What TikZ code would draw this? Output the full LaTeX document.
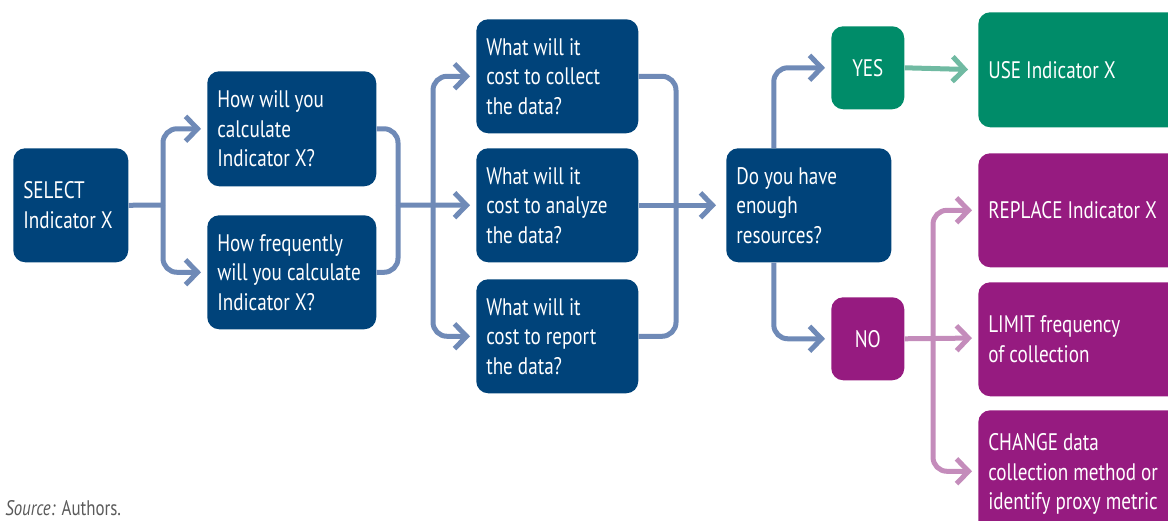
\documentclass[tikz,border=0pt]{standalone}
\usepackage{fontspec}
\setmainfont[FakeStretch=0.8]{PT Sans}
\usetikzlibrary{arrows.meta}

\newlength\gridpx
\setlength\gridpx{0.025cm}
\hyphenpenalty=10000
\definecolor{boxblue}{RGB}{0,67,122}
\definecolor{lineblue}{RGB}{111,138,183}
\definecolor{boxgreen}{RGB}{0,140,105}
\definecolor{linegreen}{RGB}{112,186,162}
\definecolor{boxpurple}{RGB}{150,27,128}
\definecolor{linepink}{RGB}{196,140,187}
\definecolor{srcgray}{RGB}{90,90,90}

\begin{document}
\begin{tikzpicture}[x=0.025cm,y=-0.025cm,
    box/.style={rounded corners=12\gridpx, fill=boxblue, text=white, align=left,
      font=\fontsize{17}{21}\selectfont, execute at begin node={\spaceskip=3.6pt plus 1pt\relax},
      inner xsep=10\gridpx, inner ysep=0pt, anchor=north west},
    dims/.style 2 args={text width=#1\gridpx, minimum height=#2\gridpx},
    line/.style={draw=lineblue, line width=5\gridpx, rounded corners=14\gridpx},
    link/.style={line, -{Straight Barb[length=0.3cm, width=0.62cm]}, shorten >=6\gridpx}
  ]
    \useasboundingbox (0,0) rectangle (1168,520);
    \clip (0,0) rectangle (1168,520);

    \node[box, dims={95}{114}] (select) at (13,148) {SELECT\\Indicator X};
    \node[box, dims={149}{115}] (calc) at (207,71) {How will you\\calculate\\Indicator X?};
    \node[box, dims={149}{114}] (freq) at (207,215) {How frequently\\will you calculate\\Indicator X?};
    \node[box, dims={142}{114}] (collect) at (476,19) {What will it\\cost to collect\\the data?};
    \node[box, dims={142}{114}] (analyze) at (476,148) {What will it\\cost to analyze\\the data?};
    \node[box, dims={142}{114}] (report) at (476,279) {What will it\\cost to report\\the data?};
    \node[box, dims={145}{114}] (enough) at (726,148) {Do you have\\enough\\resources?};
    \node[box, dims={53}{83}, align=center, fill=boxgreen] (yes) at (831,26) {YES};
    \node[box, dims={53}{83}, align=center, fill=boxpurple] (no) at (831,297) {NO};
    \node[box, dims={220}{115}, fill=boxgreen] (use) at (978,12) {USE Indicator X};
    \node[box, dims={220}{114}, fill=boxpurple] (replace) at (978,153) {REPLACE Indicator X};
    \node[box, dims={220}{114}, fill=boxpurple] (limit) at (978,282) {LIMIT frequency\\of collection};
    \node[box, dims={220}{128}, fill=boxpurple] (change) at (978,410) {CHANGE data\\collection method or\\identify proxy metric};
    \node[anchor=west, inner sep=0pt, text=srcgray, font=\fontsize{15}{17}\selectfont] (source) at (5,508) {\textit{Source:} Authors.};

    \coordinate (j1) at (163,205);
    \coordinate (j2) at (398,205);
    \coordinate (j3) at (433,205);
    \coordinate (j4) at (676,205);
    \coordinate (j5) at (933,338);

    \draw[line] (select.east) -- (j1);
    \draw[link] (j1) |- (calc.west);
    \draw[link] (j1) |- (freq.west);

    \draw[line] (calc.east) -| (j2);
    \draw[line] (freq.east) -| (j2);
    \draw[link] (j2) -- (analyze.west);
    \draw[link] (j3) |- (collect.west);
    \draw[link] (j3) |- (report.west);

    \draw[line] (collect.east) -| (j4);
    \draw[line] (report.east) -| (j4);
    \draw[link, shorten >=10\gridpx] (analyze.east) -- (enough.west);

    \draw[link] ([xshift=-35\gridpx]enough.north) |- (yes.west);
    \draw[link] ([xshift=-35\gridpx]enough.south) |- (no.west);
    \draw[link, draw=linegreen, shorten >=10\gridpx] (yes.east) -- (use.west);

    \draw[link, draw=linepink] (j5) |- (replace.west);
    \draw[link, draw=linepink] (j5) |- ([yshift=3\gridpx]change.west);
    \draw[link, draw=linepink] (no.east) -- (j5 -| limit.west);
\end{tikzpicture}
\end{document}
